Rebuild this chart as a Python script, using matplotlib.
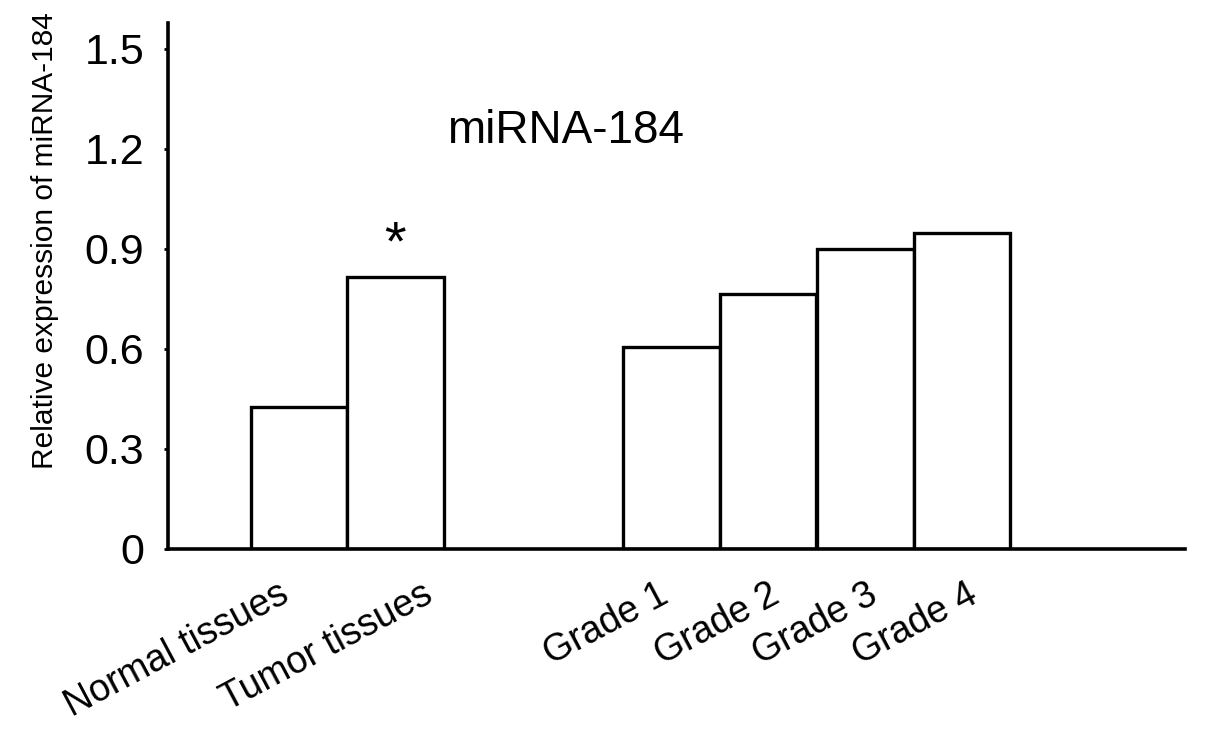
import matplotlib
matplotlib.use("Agg")
import matplotlib.pyplot as plt
from matplotlib.transforms import ScaledTranslation

categories = ["Normal tissues", "Tumor tissues", "Grade 1", "Grade 2", "Grade 3", "Grade 4"]
values = [0.425, 0.815, 0.605, 0.763, 0.899, 0.947]
positions = [0, 1, 3.86, 4.86, 5.87, 6.87]
yticks = [0, 0.3, 0.6, 0.9, 1.2, 1.5]
yticklabels = ["0", "0.3", "0.6", "0.9", "1.2", "1.5"]
label_shift_px = [-21, 26, -14, 0, 1, 4]

plt.rcParams['font.family'] = ['Liberation Sans', 'DejaVu Sans']

fig = plt.figure(figsize=(12.05, 7.31), dpi=100)
ax = fig.add_axes([168/1205, 1-548.5/731, (1185-168)/1205, (548.5-23.3)/731])

ax.bar(positions, values, width=1.0, color="white", edgecolor="black", linewidth=2.4, zorder=2)

ax.set_xlim(-1.355, 9.18)
ax.set_ylim(0, 1.576)

for s in ["top", "right"]:
    ax.spines[s].set_visible(False)
for s in ["left", "bottom"]:
    ax.spines[s].set_linewidth(2.6)
    ax.spines[s].set_zorder(3)

ax.set_yticks(yticks)
ax.set_yticklabels(yticklabels, fontsize=31)
ax.tick_params(axis="y", length=3, width=2, direction="out", pad=14)

ax.set_xticks(positions)
ax.set_xticklabels(categories, fontsize=27, rotation=28, ha="right", rotation_mode="anchor")
ax.tick_params(axis="x", length=0, pad=20)
for lbl, dx in zip(ax.get_xticklabels(), label_shift_px):
    lbl.set_transform(lbl.get_transform() + ScaledTranslation(dx / 100, 0, fig.dpi_scale_trans))

ax.set_ylabel("Relative expression of miRNA-184", fontsize=21.5)
ax.yaxis.set_label_coords(-0.107, (548.5 - 241) / 525.2)

ax.text(0.391, 0.795, "miRNA-184", transform=ax.transAxes, fontsize=33, ha="center", va="center")
ax.text(positions[1], values[1] + 0.095, "*", fontsize=40, ha="center", va="center")

fig.savefig("out.png", dpi=100)
